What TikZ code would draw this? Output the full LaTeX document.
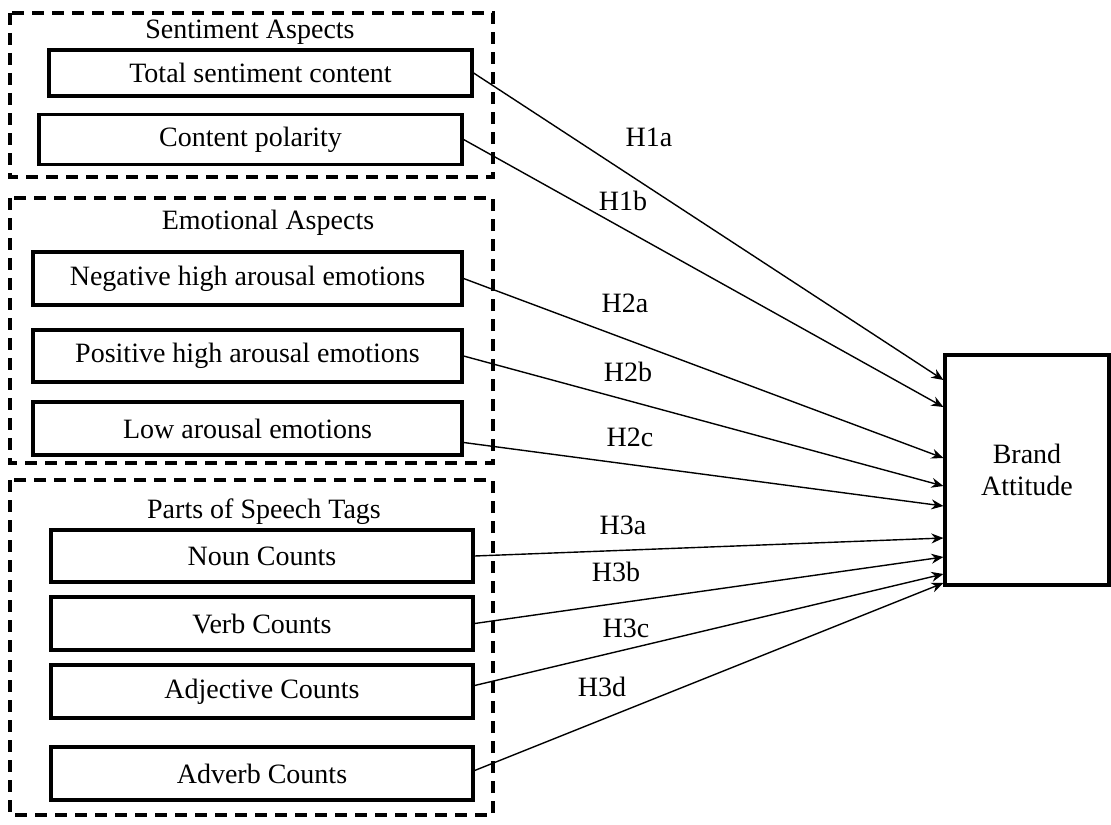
\documentclass[tikz,border=0pt]{standalone}
\usepackage{fontspec}
\setmainfont{Liberation Serif}
\usepackage{tikz}
\usetikzlibrary{shapes.geometric, arrows.meta}
\tikzstyle{arrow} = [line width=0.7pt,->,>={Stealth[length=6pt,width=5pt]}]
\tikzstyle{itembox} = [draw, line width=1.6pt, minimum height=25pt, inner sep=0pt]
\tikzstyle{groupbox} = [draw, line width=1.6pt, dash pattern=on 6pt off 4pt]
\tikzstyle{hyp} = [inner sep=1pt]

\begin{document}
\begin{tikzpicture}[x=0.5pt, y=-0.5pt, every node/.style={font=\fontsize{14}{16}\selectfont}]
        \useasboundingbox (0,0) rectangle (1111,824);
        % Group frames
        \draw[groupbox] (10,13) rectangle (493,177);
        \draw[groupbox] (10,198) rectangle (493,463);
        \draw[groupbox] (10,480) rectangle (493,815);
        \node (tsent) at (250,32) {Sentiment Aspects};
        \node (temo) at (268,223) {Emotional Aspects};
        \node (tpos) at (264,512) {Parts of Speech Tags};

        % Predictor blocks
        \node[itembox, minimum width=211.5pt, minimum height=23pt] (tot) at (260.5,73) {Total sentiment content};
        \node[itembox, minimum width=211.5pt] (pol) at (250.5,139.5) {Content polarity};
        \node[itembox, minimum width=214.5pt, minimum height=26.5pt] (neg) at (247.5,278.5) {Negative high arousal emotions};
        \node[itembox, minimum width=214.5pt, minimum height=26pt] (posi) at (247.5,356) {Positive high arousal emotions};
        \node[itembox, minimum width=214.5pt, minimum height=26.5pt] (low) at (247.5,428.5) {Low arousal emotions};
        \node[itembox, minimum width=211pt, minimum height=26pt] (noun) at (262,556) {Noun Counts};
        \node[itembox, minimum width=211pt, minimum height=26.5pt] (verb) at (262,623.5) {Verb Counts};
        \node[itembox, minimum width=211pt, minimum height=26.5pt] (adj) at (262,691.5) {Adjective Counts};
        \node[itembox, minimum width=211pt, minimum height=26.5pt] (adv) at (262,773.5) {Adverb Counts};

        % Outcome
        \node[itembox, minimum width=82pt, minimum height=115pt, align=center] (brand) at (1027,470) {Brand\\Attitude};

        % Paths
        \draw[arrow] (tot.east) -- ([yshift=45pt]brand.west);
        \draw[arrow] (pol.east) -- ([yshift=31.5pt]brand.west);
        \draw[arrow] (neg.east) -- ([yshift=6pt]brand.west);
        \draw[arrow] (posi.east) -- ([yshift=-8pt]brand.west);
        \draw[arrow] ([yshift=-7pt]low.east) -- ([yshift=-18pt]brand.west);
        \draw[arrow] (noun.east) -- ([yshift=-34pt]brand.west);
        \draw[arrow] (verb.east) -- ([yshift=-43.5pt]brand.west);
        \draw[arrow] ([yshift=3pt]adj.east) -- ([yshift=-52pt]brand.west);
        \draw[arrow] ([yshift=1.5pt]adv.east) -- ([yshift=-56.5pt]brand.west);

        % Hypothesis labels
        \node[hyp] (h1a) at (649,137) {H1a};
        \node[hyp] (h1b) at (623,201) {H1b};
        \node[hyp] (h2a) at (625,303) {H2a};
        \node[hyp] (h2b) at (628,372) {H2b};
        \node[hyp] (h2c) at (630,437) {H2c};
        \node[hyp] (h3a) at (623,525) {H3a};
        \node[hyp] (h3b) at (616,572) {H3b};
        \node[hyp] (h3c) at (626,628) {H3c};
        \node[hyp] (h3d) at (602,687) {H3d};
\end{tikzpicture}
\end{document}
